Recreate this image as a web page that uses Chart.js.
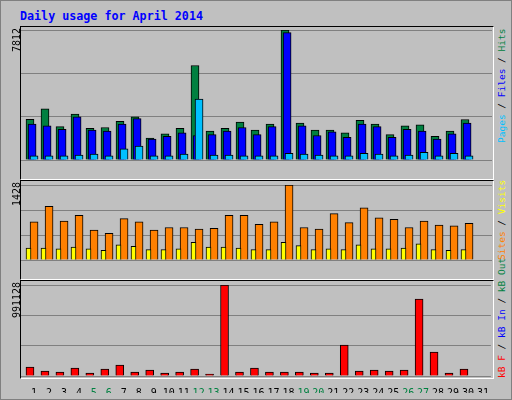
<!DOCTYPE html>
<html><head><meta charset="utf-8">
<script src="https://cdn.jsdelivr.net/npm/chart.js@4"></script>
<style>
body{margin:0;background:#fff;}
#f{position:absolute;left:0;top:0;width:510px;height:398px;background:#c0c0c0;border:1px solid #808080;overflow:hidden;font-family:"DejaVu Sans Mono",monospace;}
.p{position:absolute;left:19px;width:472px;border-top:1px solid #000;border-left:1px solid #000;border-bottom:1px solid #fff;border-right:1px solid #fff;}
canvas{position:absolute;}
.r{position:absolute;transform-origin:left top;transform:rotate(-90deg);white-space:nowrap;font-size:9.5px;line-height:12px;}
</style></head><body>
<div id="f">
<div style="position:absolute;left:19px;top:8px;color:#0000ff;font-weight:bold;font-size:11.7px;">Daily usage for April 2014</div>
<div class="p" style="top:25px;height:152px"></div>
<div class="p" style="top:179px;height:98px"></div>
<div class="p" style="top:279px;height:97px"></div>
<canvas id="c1" width="471" height="147" style="left:20px;top:29px"></canvas>
<canvas id="c2" width="471" height="92" style="left:20px;top:184px"></canvas>
<canvas id="c3" width="471" height="108" style="left:20px;top:284px"></canvas>
<div class="r" style="left:10px;top:51px;font-size:10px">7812</div>
<div class="r" style="left:10px;top:205px;font-size:10px">1428</div>
<div class="r" style="left:10px;top:317px;font-size:10px">991128</div>
<div class="r" style="left:495px;top:142px"><span style="color:#00c0ff">Pages</span> / <span style="color:#0000ff">Files</span> / <span style="color:#008040">Hits</span></div>
<div class="r" style="left:495px;top:259px"><span style="color:#ff8000">Sites</span> / <span style="color:#ffff00">Visits</span></div>
<div class="r" style="left:495px;top:377px"><span style="color:#ff0000">kB F</span> / <span style="color:#0000ff">kB In</span> / <span style="color:#008040">kB Out</span></div>
</div>
<script>
const days = Array.from({length:31},(_,i)=>i+1);
const weekends = [5,6,12,13,19,20,26,27];
const hits = [2450,3071,2006,2752,1900,1953,2326,2592,1314,1580,1900,5681,1740,1900,2272,1793,2166,7812,2219,1793,1793,1633,2379,2166,1527,2059,2113,1420,1740,2432];
const files = [2166,2059,1846,2592,1793,1740,2166,2485,1260,1420,1633,1473,1527,1740,1953,1527,2006,7650,2059,1473,1686,1367,2166,2006,1367,1846,1740,1260,1580,2219];
const pages = [249,249,249,302,355,249,675,834,249,249,355,3657,302,302,249,249,249,408,355,302,249,249,408,355,249,302,462,249,408,249];
const sites = [727,1023,742,851,571,509,789,727,571,618,618,587,602,851,851,680,727,1428,618,587,882,711,991,805,773,618,742,664,649,696];
const visits = [228,228,213,244,213,182,291,260,197,197,213,337,244,244,228,197,197,337,275,197,213,197,291,213,213,228,306,197,182,197];
const kbytes = [98010,54450,43560,87120,32670,76230,119790,43560,65340,32670,43560,76230,21780,991128,43560,87120,43560,43560,43560,32670,32670,337590,54450,65340,54450,65340,838530,261360,32670,76230];
const yMax = [7812,1428,991128];

function ds(vals, off, color, w){
  return {data: vals.map((v,i)=>({x:days[i]+off,y:v})), backgroundColor:color, borderColor:'#000', borderWidth:1, barThickness:w, grouped:false, borderSkipped:'bottom'};
}
function mk(id, sets, max, showX){
  new Chart(document.getElementById(id),{type:'bar',data:{datasets:sets},
    options:{responsive:false,animation:false,devicePixelRatio:1,layout:{padding:0},
      plugins:{legend:{display:false},tooltip:{enabled:false}},
      scales:{
        x:{type:'linear',offset:false,min:0.13,max:31.53,display:showX,grid:{display:false},border:{display:false},
          afterBuildTicks:s=>{s.ticks=days.map(d=>({value:d}));},
          afterFit:s=>{s.height=17;},
          ticks:{autoSkip:false,maxRotation:0,padding:3,font:{family:'DejaVu Sans Mono',size:10},
            color:c=>weekends.includes(c.tick.value)?'#008040':'#000'}},
        y:{min:0,max:max,display:true,afterFit:s=>{s.width=0;},ticks:{display:false,stepSize:max/3},
          grid:{color:'#808080',drawTicks:false},border:{display:false}}
      }}});
}
mk('c1',[ds(pages,0,'#00c0ff',8),ds(files,-0.13,'#0000ff',8),ds(hits,-0.27,'#008040',8)],yMax[0],false);
mk('c2',[ds(visits,-0.37,'#ffff00',5),ds(sites,0,'#ff8000',8)],yMax[1],false);
mk('c3',[ds(kbytes,-0.27,'#ff0000',8)],yMax[2],true);
</script></body></html>
